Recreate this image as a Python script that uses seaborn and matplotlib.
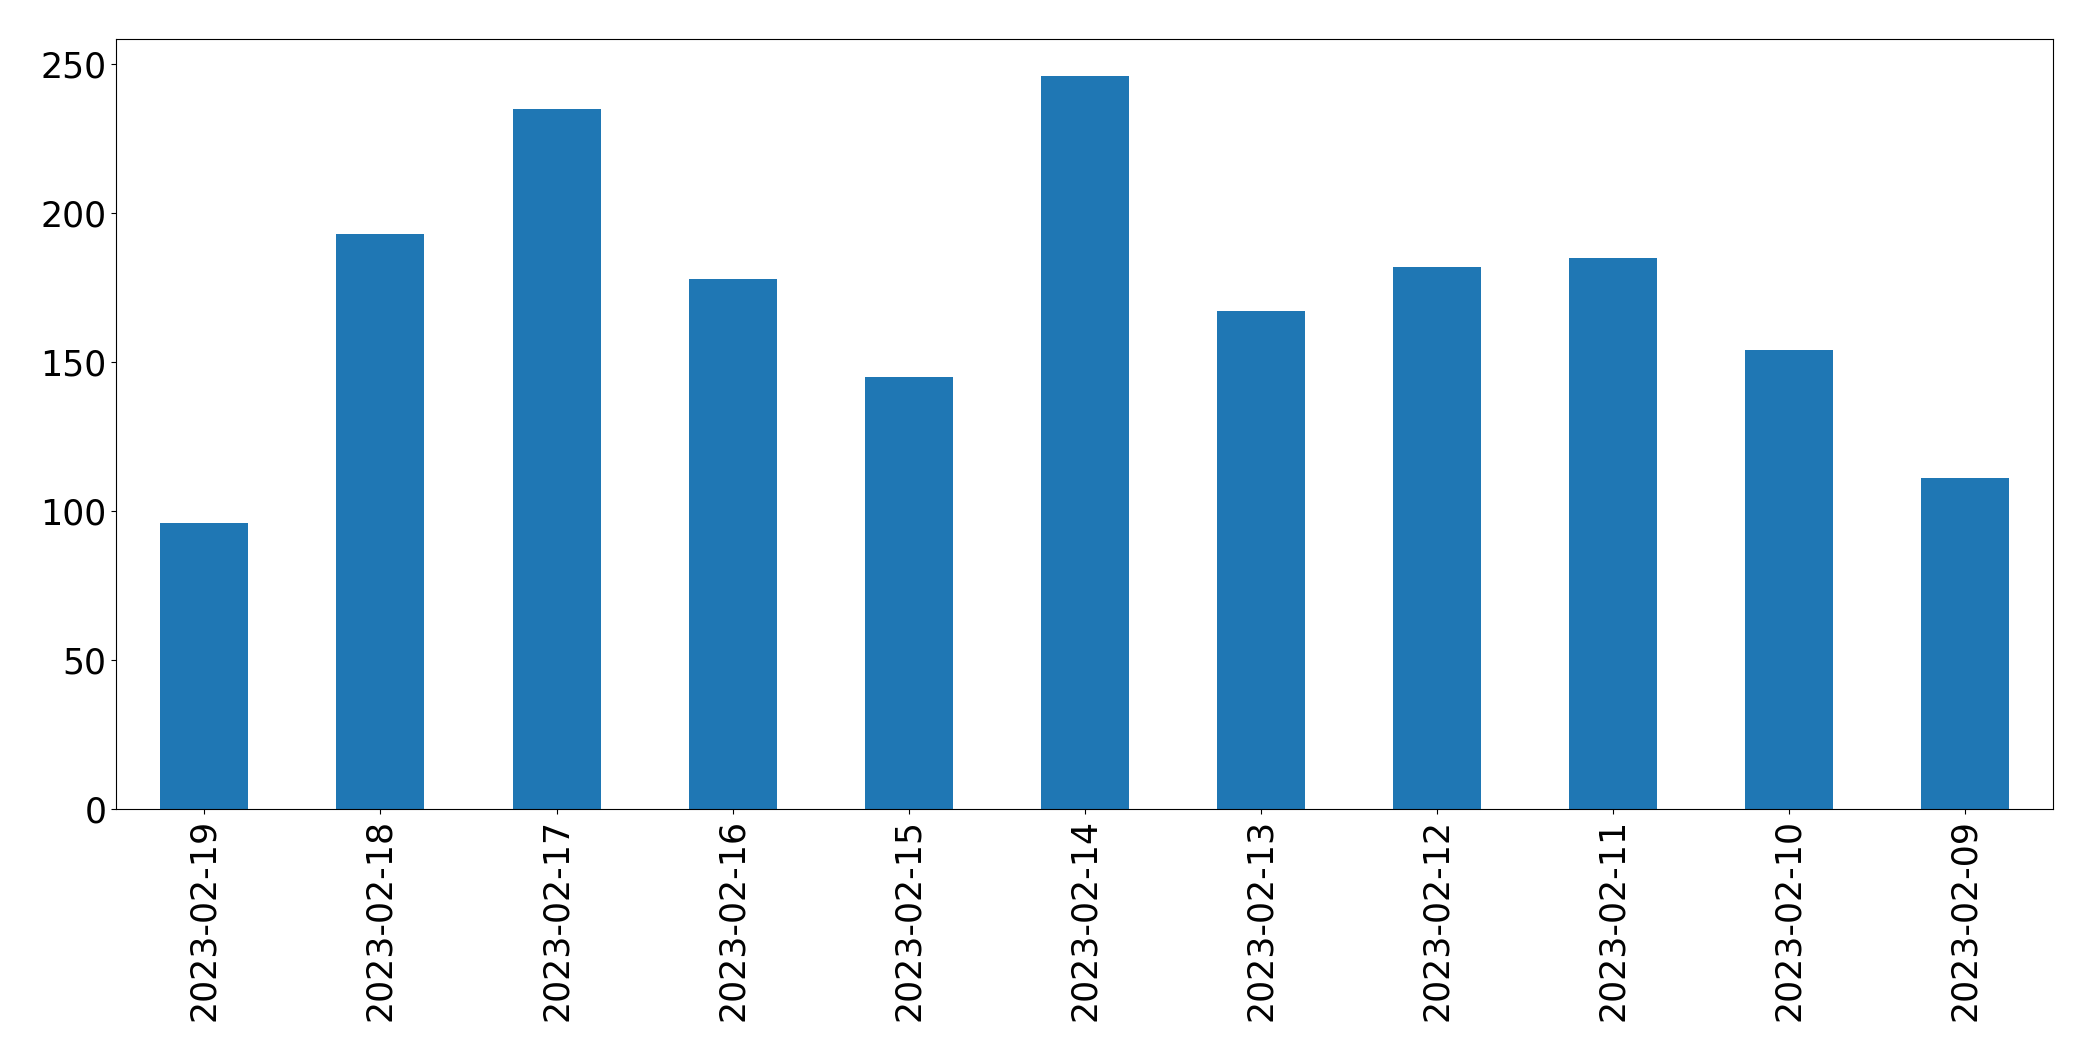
import matplotlib
matplotlib.use('Agg')
import matplotlib.pyplot as plt
import pandas as pd
import seaborn as sns

dates = ['2023-02-19', '2023-02-18', '2023-02-17', '2023-02-16', '2023-02-15', '2023-02-14',
         '2023-02-13', '2023-02-12', '2023-02-11', '2023-02-10', '2023-02-09']
counts = [96, 193, 235, 178, 145, 246, 167, 182, 185, 154, 111]

df = pd.DataFrame({'date': dates, 'count': counts})

fig = plt.figure(figsize=(20.93, 10.61), dpi=100)
ax = fig.add_axes([116.3 / 2093, (1061 - 809.3) / 1061, 1937 / 2093, 770 / 1061])

sns.barplot(data=df, x='date', y='count', color='#1f77b4', saturation=1, width=0.5, ax=ax)

ax.set_xlim(-0.5, len(dates) - 0.5)
ax.set_ylim(0, max(counts) * 1.05)
ax.set_xlabel('')
ax.set_ylabel('')
for s in ax.spines.values():
    s.set_color('black')
ax.tick_params(axis='both', labelsize=25, colors='black')
ax.tick_params(axis='x', labelrotation=90)

fig.savefig('out.png', dpi=100)
